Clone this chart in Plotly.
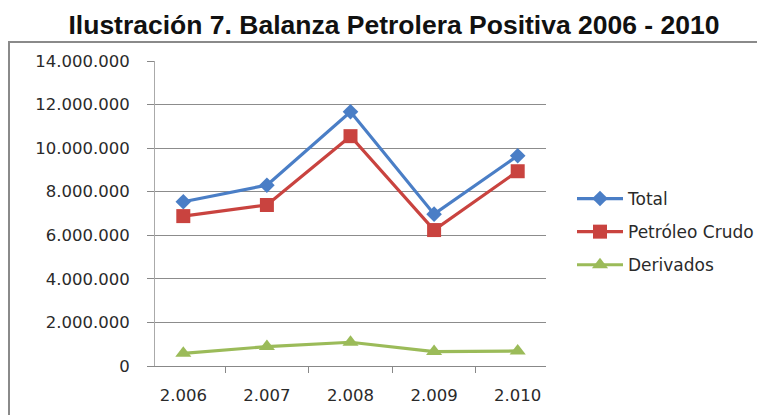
import plotly.graph_objects as go

years = ["2.006", "2.007", "2.008", "2.009", "2.010"]
total = [7540000, 8300000, 11670000, 6970000, 9650000]
crudo = [6880000, 7390000, 10550000, 6240000, 8940000]
derivados = [580000, 890000, 1090000, 660000, 690000]
ytick_vals = [0, 2000000, 4000000, 6000000, 8000000, 10000000, 12000000, 14000000]
ytick_text = ["0", "2.000.000", "4.000.000", "6.000.000", "8.000.000", "10.000.000", "12.000.000", "14.000.000"]

FONT = "DejaVu Sans"
fig = go.Figure()
fig.add_trace(go.Scatter(x=years, y=total, name="Total", mode="lines+markers",
                         line=dict(color="#4A7EC6", width=3.2),
                         marker=dict(symbol="diamond", size=12, color="#4A7EC6"),
                         legendgroup="a"))
fig.add_trace(go.Scatter(x=years, y=crudo, name="Petróleo Crudo", mode="lines+markers",
                         line=dict(color="#C9433F", width=3.2),
                         marker=dict(symbol="square", size=14, color="#C9433F"),
                         legendgroup="b"))
fig.add_trace(go.Scatter(x=years, y=derivados, name="Derivados", mode="lines+markers",
                         line=dict(color="#9BBB59", width=3.2),
                         marker=dict(symbol="triangle-up", size=14, color="#9BBB59"),
                         legendgroup="c"))

OFF = 8  # page body margin
W, H = 765, 415
L, R, T, B = 155 - OFF, 546 - OFF, 61 - OFF, 366 - OFF
def px(x):
    return (x - OFF - L) / (R - L)
def py(y):
    return (B - (y - OFF)) / (B - T)

fig.update_layout(
    width=W, height=H,
    margin=dict(l=L, r=W - R, t=T, b=H - B),
    paper_bgcolor="white", plot_bgcolor="white",
    font=dict(family=FONT, size=16, color="#2A2A2A"),
    title=dict(text="<b>Ilustración 7. Balanza Petrolera Positiva 2006 - 2010</b>",
               font=dict(family="Liberation Sans", size=26.5, color="#111111"),
               x=(394 - OFF) / W, xanchor="center", y=1 - (25 - OFF) / H, yanchor="middle"),
    xaxis=dict(type="category", showgrid=False, showline=True, linecolor="#888888", linewidth=1,
               ticks="outside", ticklen=6, tickcolor="#888888", tickson="boundaries",
               ticklabelstandoff=14, tickfont=dict(family=FONT, size=16.5, color="#2A2A2A")),
    yaxis=dict(range=[0, 14000000], tickvals=ytick_vals, ticktext=ytick_text,
               showgrid=True, gridcolor="#8C8C8C", gridwidth=1, zeroline=False,
               showline=True, linecolor="#AAAAAA", linewidth=1,
               ticks="outside", ticklen=7, tickcolor="#888888",
               ticklabelstandoff=14, tickfont=dict(family=FONT, size=16.5, color="#2A2A2A")),
    legend=dict(x=px(572), xanchor="left", y=py(232), yanchor="middle",
                itemwidth=46, tracegroupgap=8,
                font=dict(family=FONT, size=17, color="#2A2A2A"),
                bgcolor="rgba(0,0,0,0)"),
    showlegend=True,
    shapes=[dict(type="rect", xref="paper", yref="paper",
                 x0=px(9), x1=px(775), y0=py(425), y1=py(42),
                 line=dict(color="#8A8A8A", width=2), fillcolor="rgba(0,0,0,0)", layer="above")],
)

fig.write_html("out.html")
